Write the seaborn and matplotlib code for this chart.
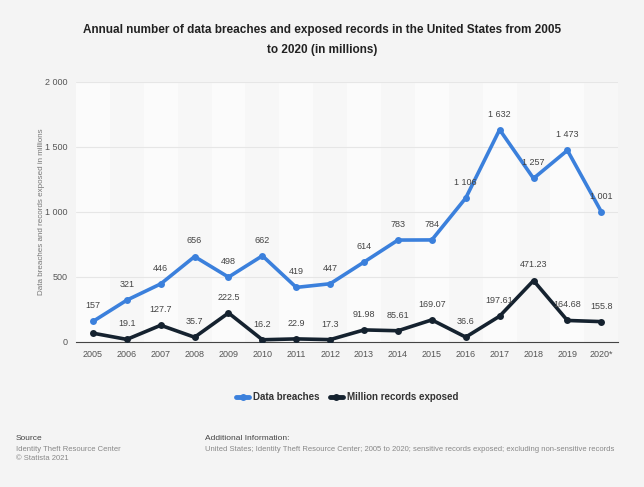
import seaborn as sns
import matplotlib.pyplot as plt
import pandas as pd

# data
years = ["2005", "2006", "2007", "2008", "2009", "2010", "2011", "2012",
         "2013", "2014", "2015", "2016", "2017", "2018", "2019", "2020*"]
breaches = [157, 321, 446, 656, 498, 662, 419, 447, 614, 783, 784, 1106, 1632, 1257, 1473, 1001]
records = [66.9, 19.1, 127.7, 35.7, 222.5, 16.2, 22.9, 17.3, 91.98, 85.61, 169.07, 36.6,
           197.61, 471.23, 164.68, 155.8]
breach_labels = ["157", "321", "446", "656", "498", "662", "419", "447", "614", "783", "784",
                 "1 106", "1 632", "1 257", "1 473", "1 001"]
record_labels = ["", "19.1", "127.7", "35.7", "222.5", "16.2", "22.9", "17.3", "91.98", "85.61",
                 "169.07", "36.6", "197.61", "471.23", "164.68", "155.8"]

df = pd.DataFrame({
    "year": years * 2,
    "value": breaches + records,
    "series": ["Data breaches"] * len(years) + ["Million records exposed"] * len(years),
})

# feel and look
sns.set_style("white")
plt.rcParams["font.family"] = ["Liberation Sans", "DejaVu Sans"]
bg = "#f4f4f4"
blue = "#3b80dc"
navy = "#15222f"

fig = plt.figure(figsize=(6.44, 4.87), dpi=100, facecolor=bg)
ax = fig.add_axes([0.118, 0.298, 0.842, 0.534])
ax.set_facecolor("#f7f7f7")

# alternating column bands
for i in range(len(years)):
    if i % 2 == 0:
        ax.axvspan(i - 0.5, i + 0.5, color="#fbfbfb", zorder=0, lw=0)

ax = sns.lineplot(data=df, x="year", y="value", hue="series", ax=ax,
                  palette=[blue, navy], marker="o", markersize=5,
                  markeredgewidth=0, linewidth=2.6, sort=False, zorder=3)

ax.set_xlim(-0.5, len(years) - 0.5)
ax.set_ylim(0, 2000)
ax.set_yticks([0, 500, 1000, 1500, 2000])
ax.set_yticklabels(["0", "500", "1 000", "1 500", "2 000"])
ax.grid(axis="y", color="#e6e6e6", lw=0.8, zorder=1)
ax.tick_params(axis="both", labelsize=6.5, colors="#555555", length=0, pad=6)
for s in ["top", "right", "left"]:
    ax.spines[s].set_visible(False)
ax.spines["bottom"].set_color("#444444")
ax.spines["bottom"].set_linewidth(0.8)
ax.set_xlabel("")
ax.set_ylabel("Data breaches and records exposed in millions", fontsize=5.8,
              color="#777777")
ax.yaxis.set_label_coords(-0.057, 0.5)

# data labels
for i in range(len(years)):
    ax.annotate(breach_labels[i], (i, breaches[i]), xytext=(0, 8), textcoords="offset points",
                ha="center", va="bottom", fontsize=6.5, color="#444444", zorder=4)
    if record_labels[i]:
        ax.annotate(record_labels[i], (i, records[i]), xytext=(0, 8), textcoords="offset points",
                    ha="center", va="bottom", fontsize=6.5, color="#444444", zorder=4)

# legend
leg = ax.legend(loc="upper center", bbox_to_anchor=(0.5, -0.16), ncol=2, frameon=False,
                fontsize=7, handlelength=1.4, columnspacing=1.0, handletextpad=0.4)
for line in leg.get_lines():
    line.set_linewidth(3.5)
for t in leg.get_texts():
    t.set_fontweight("bold")
    t.set_color("#333333")

fig.text(0.5, 0.918, "Annual number of data breaches and exposed records in the United States from 2005\n"
         "to 2020 (in millions)", ha="center", va="center", fontsize=8.5, fontweight="bold",
         color="#222222", linespacing=1.9)

fig.text(0.025, 0.097, "Source", fontsize=6, color="#444444")
fig.text(0.025, 0.085, "Identity Theft Resource Center\n\u00a9 Statista 2021", fontsize=5.5,
         color="#888888", va="top", linespacing=1.5)
fig.text(0.318, 0.097, "Additional Information:", fontsize=6, color="#444444")
fig.text(0.318, 0.085, "United States; Identity Theft Resource Center; 2005 to 2020; sensitive records exposed; "
         "excluding non-sensitive records", fontsize=5.5, color="#888888", va="top")

fig.savefig("out.png", dpi=100, facecolor=bg)
